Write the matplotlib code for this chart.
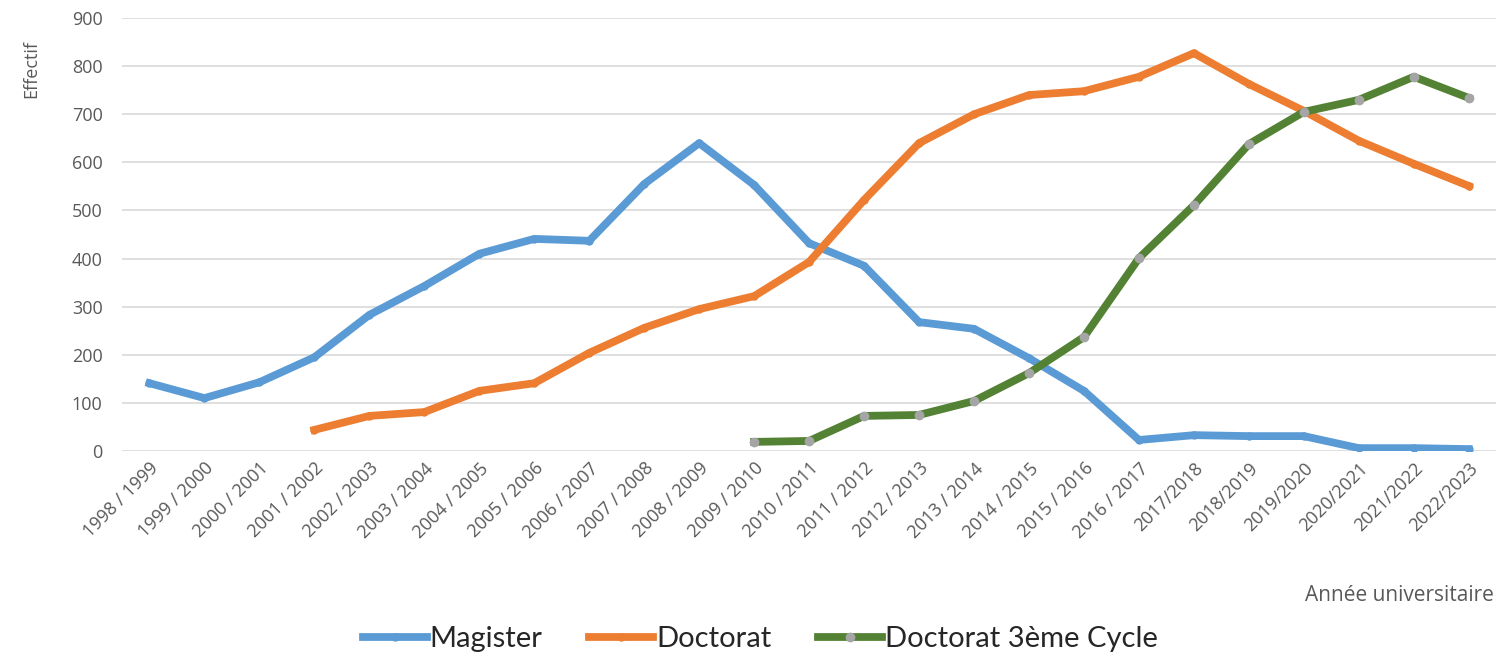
import matplotlib.pyplot as plt
import numpy as np

# years (academic)
years = ['1998 / 1999', '1999 / 2000', '2000 / 2001', '2001 / 2002', '2002 / 2003',
         '2003 / 2004', '2004 / 2005', '2005 / 2006', '2006 / 2007', '2007 / 2008',
         '2008 / 2009', '2009 / 2010', '2010 / 2011', '2011 / 2012', '2012 / 2013',
         '2013 / 2014', '2014 / 2015', '2015 / 2016', '2016 / 2017', '2017/2018',
         '2018/2019', '2019/2020', '2020/2021', '2021/2022', '2022/2023']

magister = [141, 110, 143, 195, 283, 343, 410, 441, 437, 555, 640, 553, 432,
            385, 268, 254, 193, 125, 23, 33, 31, 31, 6, 6, 4]

# Doctorat starts in 2001/2002
doctorat = [44, 73, 81, 125, 141, 204, 256, 295, 322, 393, 522, 640, 700,
            740, 748, 778, 827, 763, 707, 645, 597, 551]

# Doctorat 3eme cycle starts in 2009/2010
doctorat_lmd = [19, 21, 73, 75, 104, 162, 237, 401, 511, 638, 705, 730, 778, 734]

x = np.arange(len(years))
x_doc = x[len(years) - len(doctorat):]
x_lmd = x[len(years) - len(doctorat_lmd):]

tick_color = '#595959'

fig = plt.figure(figsize=(14.97, 6.57), dpi=100)
ax = fig.add_axes([0.0815, 0.3135, 0.918, 0.659])

ax.plot(x, magister, color='#5B9BD5', lw=5.6, marker='o', ms=5,
        mfc='#5B9BD5', mec='#5B9BD5', solid_joinstyle='round', label='Magister')
ax.plot(x_doc, doctorat, color='#ED7D31', lw=5.6, marker='o', ms=5,
        mfc='#ED7D31', mec='#ED7D31', solid_joinstyle='round', label='Doctorat')
ax.plot(x_lmd, doctorat_lmd, color='#548235', lw=5.6, marker='o', ms=6,
        mfc='#A5A5A5', mec='#A5A5A5', solid_joinstyle='round',
        label='Doctorat 3ème Cycle')

ax.set_xlim(-0.5, len(years) - 0.5)
ax.set_ylim(0, 900)
ax.set_yticks(range(0, 901, 100))
ax.set_xticks(x)
ax.set_xticklabels(years, rotation=45, ha='right', rotation_mode='anchor',
                   fontsize=13, color=tick_color, family='Open Sans')
for lab in ax.get_yticklabels():
    lab.set_fontsize(13)
    lab.set_color(tick_color)
    lab.set_family('Open Sans')

ax.grid(axis='y', color='#D9D9D9', lw=1.2)
ax.set_axisbelow(True)
for s in ax.spines.values():
    s.set_visible(False)
ax.tick_params(length=0, pad=14)
ax.tick_params(axis='x', pad=6)

fig.text(0.021, 0.895, 'Effectif', rotation=90, ha='center', va='center',
         fontsize=13, color=tick_color, family='Open Sans')
fig.text(0.998, 0.094, 'Année universitaire', ha='right', va='center',
         fontsize=15, color=tick_color, family='Open Sans')

fig.legend(loc='center', bbox_to_anchor=(0.508, 0.027), ncol=3, frameon=False,
           prop={'family': 'Lato', 'size': 21}, handlelength=2.2,
           handletextpad=0.1, columnspacing=1.6, labelcolor='#262626')

fig.savefig('out.png', dpi=100)
